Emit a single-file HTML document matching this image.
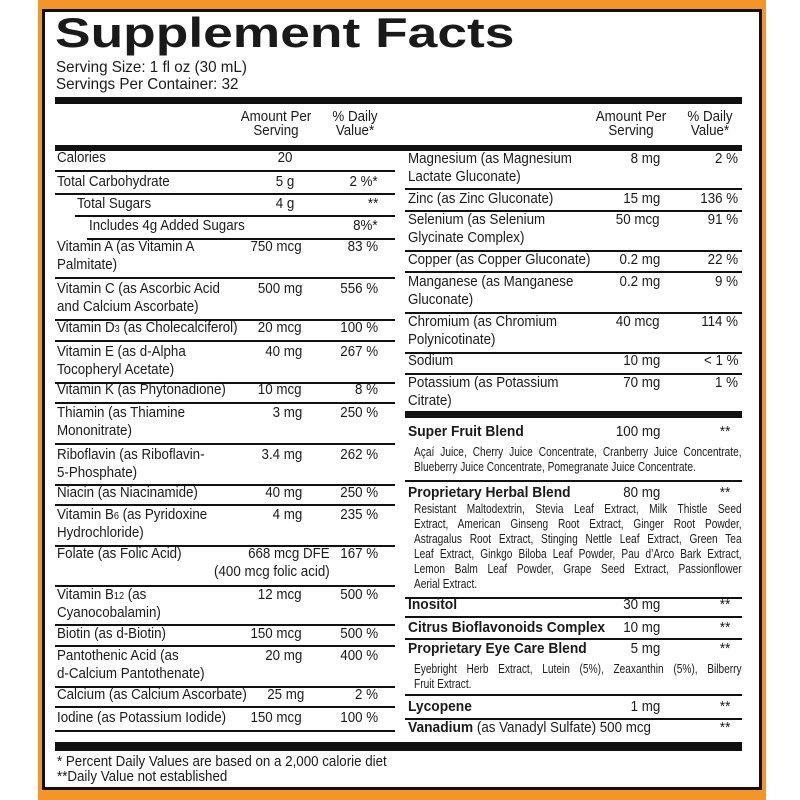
<!DOCTYPE html>
<html><head><meta charset="utf-8"><style>
body{margin:0;width:800px;height:800px;background:#fff;position:relative;overflow:hidden;font-family:"Liberation Sans",Arial,sans-serif;color:#1a1a1a}
.o{position:absolute;left:38px;top:0;width:728px;height:800px;background:#f4952a}
.b{position:absolute;left:42px;top:9px;width:714px;height:775px;border:3px solid #111;background:#fff}
.t{position:absolute;white-space:nowrap;font-size:14.5px;line-height:16px;transform:scaleX(.92);transform-origin:0 0}
.r{transform-origin:100% 0}
.c{transform-origin:50% 0}
.h{position:absolute;background:#111}
.sm{font-size:13px;line-height:15px;transform:scaleX(.78)}
</style></head><body>
<div class="o"></div><div class="b"></div>
<div class="t" style="left:55px;top:12px;font-size:42px;line-height:42px;font-weight:bold;transform:scaleX(1.27)">Supplement Facts</div>
<div class="t" style="left:56px;top:59px;font-size:16px;line-height:17px;transform:scaleX(.95)">Serving Size: 1 fl oz (30 mL)</div>
<div class="t" style="left:56px;top:76px;font-size:16px;line-height:17px;transform:scaleX(.95)">Servings Per Container: 32</div>
<div id="c"></div>
<script>
var c=document.getElementById('c'),H='';
function T(x,y,s,a,ex){var cl='t',st='top:'+(y-8)+'px;';
if(a=='r'){cl+=' r';st+='right:'+(800-x)+'px;';}else if(a=='c'){cl+=' c';st+='left:'+(x-150)+'px;width:300px;text-align:center;';}else st+='left:'+x+'px;';
H+='<div class="'+cl+'" style="'+st+(ex||'')+'">'+s+'</div>';}
function L(x1,x2,y,h){H+='<div class="h" style="left:'+x1+'px;width:'+(x2-x1)+'px;top:'+y+'px;height:'+(h||1.5)+'px"></div>';}
L(55,742,97,7);L(55,742,145,6);L(405,742,411,7);L(55,742,742,9);
T(276,117,'Amount Per','c');T(276,131,'Serving','c');T(355,117,'% Daily','c');T(355,131,'Value*','c');
T(631,117,'Amount Per','c');T(631,131,'Serving','c');T(710,117,'% Daily','c');T(710,131,'Value*','c');
var Lr=[
[['Calories'],'20','',158,170,0,'c285'],
[['Total Carbohydrate'],'5 g','2 %*',182,193,0,'c285'],
[['Total Sugars'],'4 g','**',204,215,20,'c285'],
[['Includes 4g Added Sugars'],'','8%*',226,238,32],
[['Vitamin A (as Vitamin A','Palmitate)'],'750 mcg','83 %',247,277],
[['Vitamin C (as Ascorbic Acid','and Calcium Ascorbate)'],'500 mg','556 %',289,319],
[['Vitamin D<span style="font-size:10px">3</span> (as Cholecalciferol)'],'20 mcg','100 %',328,340],
[['Vitamin E (as d-Alpha','Tocopheryl Acetate)'],'40 mg','267 %',352,382],
[['Vitamin K (as Phytonadione)'],'10 mcg','8 %',390,402],
[['Thiamin (as Thiamine','Mononitrate)'],'3 mg','250 %',413,443],
[['Riboflavin (as Riboflavin-','5-Phosphate)'],'3.4 mg','262 %',455,484],
[['Niacin (as Niacinamide)'],'40 mg','250 %',493,504],
[['Vitamin B<span style="font-size:10px">6</span> (as Pyridoxine','Hydrochloride)'],'4 mg','235 %',515,545],
[['Folate (as Folic Acid)'],'668 mcg DFE','167 %',554,585,0,'f'],
[['Vitamin B<span style="font-size:10px">12</span> (as','Cyanocobalamin)'],'12 mcg','500 %',595,624],
[['Biotin (as d-Biotin)'],'150 mcg','500 %',634,645],
[['Pantothenic Acid (as','d-Calcium Pantothenate)'],'20 mg','400 %',656,686],
[['Calcium (as Calcium Ascorbate)'],'25 mg','2 %',695,706,0,'p'],
[['Iodine (as Potassium Iodide)'],'150 mcg','100 %',718,730]];
Lr.forEach(function(r){var ind=r[5]||0;T(57+ind,r[3],r[0][0]);if(r[0][1])T(57,r[3]+18,r[0][1]);
if(r[6]=='c285')T(285,r[3],r[1],'c');else if(r[6]=='f'){T(330,r[3],r[1],'r');T(330,r[3]+18,'(400 mcg folic acid)','r');}
else if(r[6]=='p')T(304,r[3],r[1],'r');else T(302,r[3],r[1],'r');
T(378,r[3],r[2],'r');L(55+ind,395,r[4]);});
var Rr=[
[['Magnesium (as Magnesium','Lactate Gluconate)'],'8 mg','2 %',159,188],
[['Zinc (as Zinc Gluconate)'],'15 mg','136 %',199,210],
[['Selenium (as Selenium','Glycinate Complex)'],'50 mcg','91 %',220,250],
[['Copper (as Copper Gluconate)'],'0.2 mg','22 %',260,271],
[['Manganese (as Manganese','Gluconate)'],'0.2 mg','9 %',282,312],
[['Chromium (as Chromium','Polynicotinate)'],'40 mcg','114 %',322,352],
[['Sodium'],'10 mg','&lt; 1 %',361,373],
[['Potassium (as Potassium','Citrate)'],'70 mg','1 %',383,0]];
Rr.forEach(function(r){T(408,r[3],r[0][0]);if(r[0][1])T(408,r[3]+18,r[0][1]);
T(660,r[3],r[1],'r');T(738,r[3],r[2],'r');if(r[4])L(405,742,r[4]);});
var B='font-weight:bold;font-size:15px;';
function BL(y,n,a,ln){T(408,y,n,'',B);T(660,y,a,'r');T(730,y,'**','r');if(ln)L(405,742,ln);}
BL(432,'Super Fruit Blend','100 mg',480);
BL(493,'Proprietary Herbal Blend','80 mg',597);
BL(605,'Inositol','30 mg',616);
BL(628,'Citrus Bioflavonoids Complex','10 mg',638);
BL(649,'Proprietary Eye Care Blend','5 mg',694);
BL(707,'Lycopene','1 mg',718);
T(408,728,'<b style="font-size:15px">Vanadium</b> (as Vanadyl Sulfate) 500 mcg');T(730,728,'**','r');
function P(y,lines){lines.forEach(function(s,i){H+='<div class="t sm" style="left:414px;top:'+(y-8+i*15)+'px;width:420px;white-space:normal;text-align:justify;text-align-last:justify">'+s+'</div>';});}
function S(y,s){H+='<div class="t sm" style="left:414px;top:'+(y-8)+'px">'+s+'</div>';}
P(452,['Açaí Juice, Cherry Juice Concentrate, Cranberry Juice Concentrate,']);
S(467,'Blueberry Juice Concentrate, Pomegranate Juice Concentrate.');
P(509,['Resistant Maltodextrin, Stevia Leaf Extract, Milk Thistle Seed','Extract, American Ginseng Root Extract, Ginger Root Powder,','Astragalus Root Extract, Stinging Nettle Leaf Extract, Green Tea','Leaf Extract, Ginkgo Biloba Leaf Powder, Pau d’Arco Bark Extract,','Lemon Balm Leaf Powder, Grape Seed Extract, Passionflower']);
S(584,'Aerial Extract.');
P(669,['Eyebright Herb Extract, Lutein (5%), Zeaxanthin (5%), Bilberry']);
S(684,'Fruit Extract.');
T(57,762,'* Percent Daily Values are based on a 2,000 calorie diet');
T(57,777,'**Daily Value not established');
c.innerHTML=H;
</script>
</body></html>
